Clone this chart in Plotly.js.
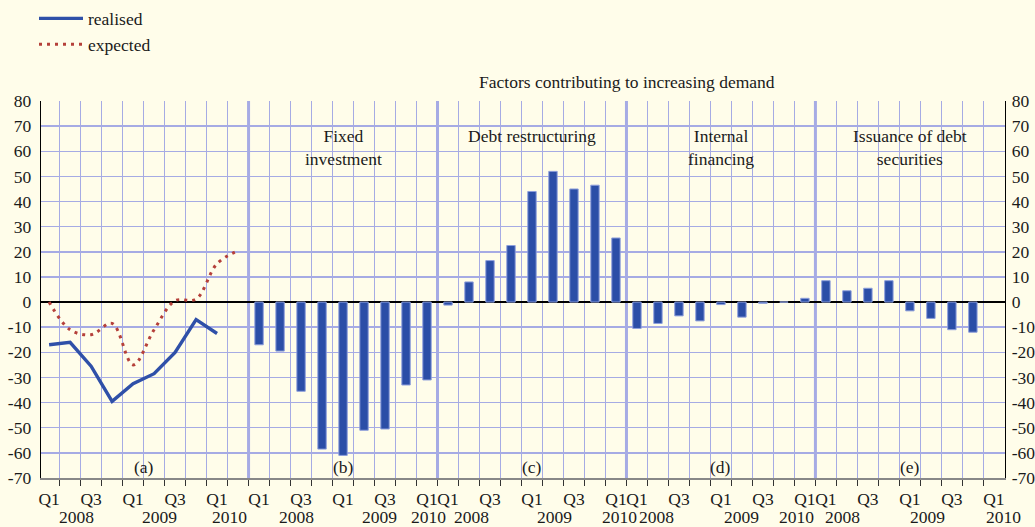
<!DOCTYPE html>
<html><head><meta charset="utf-8">
<script src="https://cdn.plot.ly/plotly-3.0.1.min.js"></script>
<style>html,body{margin:0;padding:0;background:#fffdea;} #chart{width:1035px;height:527px;}</style>
</head><body><div id="chart"></div>
<script>
// ---------- data ----------
const quarters = ['Q1 2008','Q2 2008','Q3 2008','Q4 2008','Q1 2009','Q2 2009','Q3 2009','Q4 2009','Q1 2010'];
const quarterTickLabels = ['Q1','','Q3','','Q1','','Q3','','Q1'];
const yearLabels = ['2008','2009','2010'];
const realised = [-17, -16, -25.5, -39.5, -32.5, -28.5, -20, -7, -12.5];
const expectedQuarters = ['Q1 2008','Q2 2008','Q3 2008','Q4 2008','Q1 2009','Q2 2009','Q3 2009','Q4 2009','Q1 2010','Q2 2010'];
const expected = [0, -11, -13, -8.5, -25, -11, 0.5, 1.2, 15.3, 20.5];
const fixedInvestment = [-17, -19.5, -35.5, -58.5, -61, -51, -50.5, -33, -31];
const debtRestructuring = [-1.2, 8, 16.5, 22.5, 44, 52, 45, 46.5, 25.5];
const internalFinancing = [-10.5, -8.5, -5.5, -7.5, -1, -6, -0.5, 0, 1.5];
const debtSecurities = [8.5, 4.5, 5.5, 8.5, -3.5, -6.5, -11, -12, null];
const panelTitles = ['', 'Fixed<br>investment', 'Debt restructuring', 'Internal<br>financing', 'Issuance of debt<br>securities'];
const panelLetters = ['(a)','(b)','(c)','(d)','(e)'];
const mainTitle = 'Factors contributing to increasing demand';
const yTickValues = [-70,-60,-50,-40,-30,-20,-10,0,10,20,30,40,50,60,70,80];
const yTickLabels = yTickValues.map(v => String(v));

// ---------- layout geometry ----------
const panelStart = [0, 10, 19, 28, 37];
const panelEnd = [10, 19, 28, 37, 46];
const slot = (p, i) => panelStart[p] + i + 0.5;
const FONT = 'Liberation Serif, Times New Roman, serif';
const TXT = '#1a1a1a';
const GRID = '#a6abe4';
const FS = 17.5;

const barSeries = [fixedInvestment, debtRestructuring, internalFinancing, debtSecurities];
const barX = [], barY = [];
barSeries.forEach((s, k) => s.forEach((v, i) => { barX.push(slot(k + 1, i)); barY.push(v); }));

const traces = [
  {type:'bar', x: barX, y: barY, width: 0.40, xaxis:'x', yaxis:'y', showlegend:false,
   marker:{color:'#2b4ea7', line:{color:'#8e9fdc', width:1}}, hoverinfo:'y'},
  {type:'scatter', mode:'lines', name:'realised', x: quarters.map((q,i)=>slot(0,i)), y: realised,
   xaxis:'x2', yaxis:'y', line:{color:'#2f50a8', width:3.4}},
  {type:'scatter', mode:'lines', name:'expected', x: expectedQuarters.map((q,i)=>slot(0,i)), y: expected,
   xaxis:'x', yaxis:'y2', line:{color:'#b5403a', width:3, dash:'3px,5px', shape:'spline', smoothing:1}}
];

const gridTicks = [];
for (let k = 1; k <= 45; k++) gridTicks.push(k);
const qTickVals = [], qTickText = [];
for (let p = 0; p < 5; p++) quarterTickLabels.forEach((t, i) => { if (t) { qTickVals.push(slot(p, i)); qTickText.push(t); } });

const yearPos = [[1.80, 5.75, 9.08],[12.27, 16.22, 18.55],[20.6, 24.56, 27.65],[29.45, 33.46, 36.1],[38.27, 42.36, 45.95]];

const annotations = [];
for (let p = 0; p < 5; p++) {
  const c = (panelStart[p] + panelEnd[p]) / 2;
  annotations.push({xref:'x', yref:'y', x: c, y: -65.5, yanchor:'middle', text: panelLetters[p], showarrow:false, font:{family:FONT, size:FS, color:TXT}});
  if (panelTitles[p]) annotations.push({xref:'x', yref:'y', x: c, y: 71, yanchor:'top', text: panelTitles[p], showarrow:false, font:{family:FONT, size:FS, color:TXT}});
  yearLabels.forEach((yl, j) => annotations.push({xref:'x', yref:'paper', x: yearPos[p][j], y: -0.104, yanchor:'middle', borderpad:0, text: yl, showarrow:false, font:{family:FONT, size:FS, color:TXT}}));
}

const shapes = [10, 19, 28, 37].map(v => ({type:'line', xref:'x', yref:'y', x0:v, x1:v, y0:-70, y1:80, layer:'below', line:{color:GRID, width:3}}));

const layout = {
  width:1035, height:527,
  margin:{l:40.7, r:30, t:100.5, b:49, autoexpand:false},
  paper_bgcolor:'#fffdea', plot_bgcolor:'#fffdea',
  font:{family:FONT, size:FS, color:TXT},
  title:{text: mainTitle, x: 0.6077, xref:'paper', xanchor:'center', y: 1 - 82/527, yref:'container', yanchor:'middle', font:{family:FONT, size:FS, color:TXT}},
  showlegend:true,
  legend:{x: 34/1035, xref:'container', y: 1 - 0.5/527, yref:'container', xanchor:'left', yanchor:'top', bgcolor:'rgba(0,0,0,0)', font:{family:FONT, size:FS, color:TXT}, itemwidth:44, tracegroupgap:0},
  xaxis:{range:[0.114, 46.03], autorange:false, tickvals:gridTicks, showticklabels:false, showgrid:true, gridcolor:GRID, gridwidth:1.5, zeroline:false,
         showline:true, linecolor:'#888', linewidth:2, ticks:'outside', ticklen:6, tickcolor:'#333', tickwidth:1.5, fixedrange:true},
  xaxis2:{range:[0.114, 46.03], autorange:false, overlaying:'x', anchor:'y', side:'bottom', tickvals:qTickVals, ticktext:qTickText, tickangle:0, showgrid:false, zeroline:false,
          showline:false, ticks:'', ticklabelstandoff:8, tickfont:{family:FONT, size:FS, color:TXT}, fixedrange:true},
  yaxis:{range:[-70, 80], autorange:false, tickvals:yTickValues, ticktext:yTickLabels, showgrid:true, gridcolor:GRID, gridwidth:1.5,
         zeroline:true, zerolinecolor:'#000', zerolinewidth:1.5, showline:true, linecolor:'#000', linewidth:1.3, ticks:'', ticklabelstandoff:5,
         tickfont:{family:FONT, size:FS, color:TXT}, fixedrange:true},
  yaxis2:{range:[-70, 80], autorange:false, overlaying:'y', side:'right', anchor:'x', tickvals:yTickValues, ticktext:yTickLabels, showgrid:false, zeroline:false,
          showline:true, linecolor:'#000', linewidth:1.3, ticks:'', ticklabelstandoff:2, tickfont:{family:FONT, size:FS, color:TXT}, fixedrange:true},
  annotations: annotations,
  shapes: shapes,
  bargap:0
};

Plotly.newPlot('chart', traces, layout, {displayModeBar:false, staticPlot:true});
</script>
</body></html>
